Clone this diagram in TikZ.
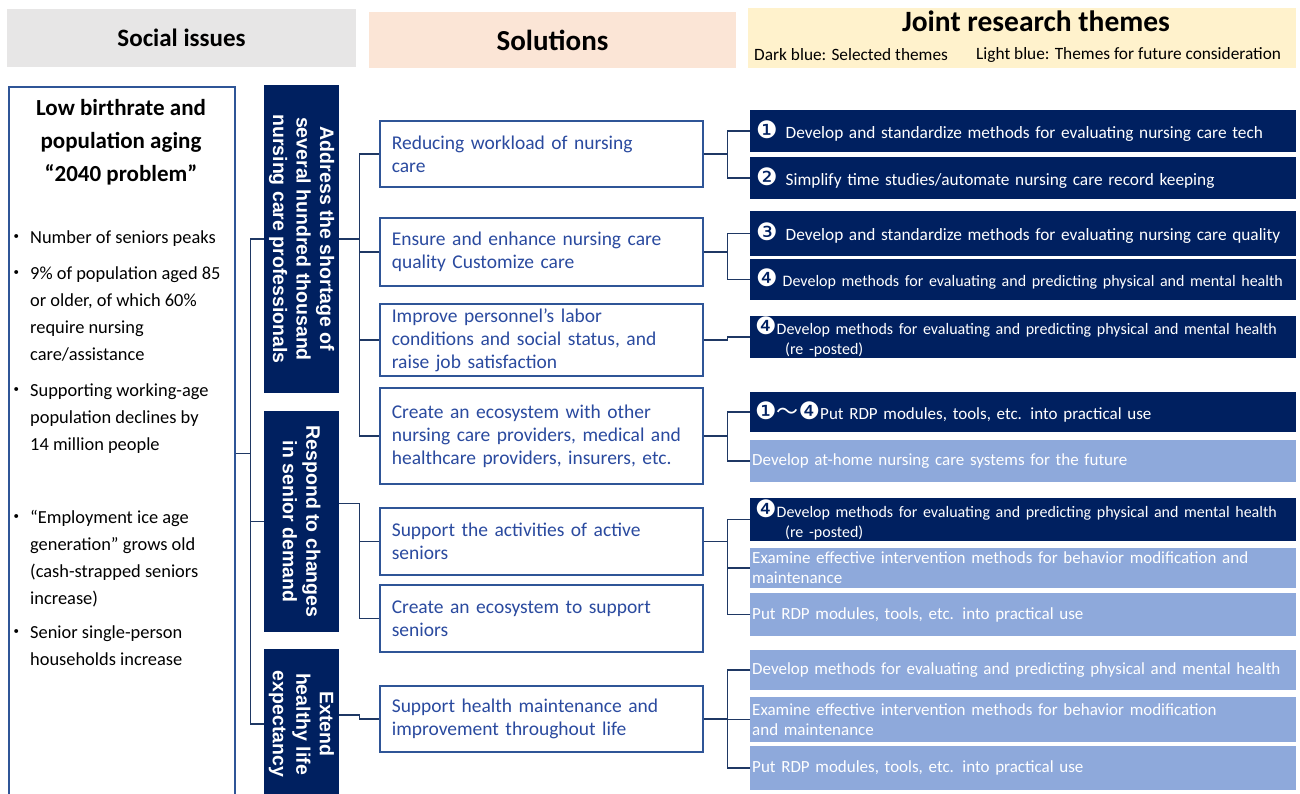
\documentclass[tikz,border=0pt]{standalone}
\usepackage{fontspec}
\setmainfont{Carlito}
\newfontfamily\arialfont{Liberation Sans}
\newfontfamily\symfont{DejaVu Sans}
\newfontfamily\cjk{Noto Sans CJK JP}
\usetikzlibrary{positioning,calc}
\tikzset{>=latex}

\definecolor{navy}{HTML}{002060}
\definecolor{lightblu}{HTML}{8EA9DB}
\definecolor{frame}{HTML}{2F5597}
\definecolor{soltext}{HTML}{2A4A9F}
\definecolor{linkcol}{HTML}{1F3864}
\definecolor{hdrgray}{HTML}{E7E6E6}
\definecolor{hdrpeach}{HTML}{FBE5D6}
\definecolor{hdryellow}{HTML}{FFF2CC}

\newcommand{\cn}[1]{{\symfont\fontsize{24}{20}\selectfont #1}}
\newcommand{\bitem}[1]{\makebox[16pt][l]{\hspace*{-7pt}\cjk ・}\parbox[t]{200pt}{\raggedright #1}}

\tikzset{
  hdr/.style={inner sep=0pt, font=\bfseries\fontsize{25}{28}\selectfont},
  sol/.style={draw=frame, line width=1.6pt, fill=white, anchor=west,
    minimum width=323pt, text width=299pt, align=left, inner xsep=12pt,
    inner ysep=0pt, text=soltext, font=\fontsize{19.5}{23}\selectfont},
  bar/.style={fill=navy, rotate=-90, text=white, align=center, inner sep=0pt,
    minimum height=75pt, font=\arialfont\bfseries\fontsize{19.5}{23.5}\selectfont},
  theme/.style={anchor=west, minimum width=546pt, text width=542pt, align=left,
    inner xsep=2pt, inner ysep=0pt, text=white, font=\fontsize{17}{20}\selectfont},
  bul/.style={anchor=north west, inner sep=0pt, font=\fontsize{18.4}{27}\selectfont},
  link/.style={draw=linkcol, line width=1.1pt}
}

\begin{document}
\begin{tikzpicture}[x=1pt,y=-1pt]
  \useasboundingbox (0,0) rectangle (1300,794);
  \clip (0,0) rectangle (1300,794);

  % headers
  \node[hdr, fill=hdrgray, minimum width=349pt, minimum height=58pt] (hsoc) at (181.5,38) {Social issues};
  \node[hdr, fill=hdrpeach, minimum width=367pt, minimum height=56pt,
    font=\bfseries\fontsize{29}{30}\selectfont] (hsol) at (552.5,40) {Solutions};
  \node[hdr, fill=hdryellow, minimum width=548pt, minimum height=60pt] (hjrt) at (1022,38) {};
  \node[hdr, font=\bfseries\fontsize{29.5}{30}\selectfont] (hjrtt) at (1036,21) {Joint research themes};
  \node[hdr, anchor=west, font=\fontsize{17.3}{18}\selectfont] (hdark) at (754,55) {Dark blue: Selected themes};
  \node[hdr, anchor=west, font=\fontsize{17.3}{18}\selectfont] (hlight) at (976,55) {Light blue: Themes for future consideration};

  % social issues
  \node[draw=frame, line width=1.6pt, anchor=north west, minimum width=226pt,
    minimum height=734pt] (issue) at (8,86) {};
  \node[align=center, inner sep=0pt, font=\bfseries\fontsize{23}{33}\selectfont] (ttl)
    at (121,142) {Low birthrate and\\population aging\\“2040 problem”};
  \node[bul] (i1) at (14,231) {\bitem{Number of seniors peaks}};
  \node[bul] (i2) at (14,267) {\bitem{9\% of population aged 85\\or older, of which 60\%\\require nursing\\care/assistance}};
  \node[bul] (i3) at (14,384) {\bitem{Supporting working-age\\population declines by\\14 million people}};
  \node[bul] (i4) at (14,510) {\bitem{“Employment ice age\\generation” grows old\\(cash-strapped seniors\\increase)}};
  \node[bul] (i5) at (14,626) {\bitem{Senior single-person\\households increase}};

  % goals
  \node[bar, minimum width=308pt] (b1) at (301.5,239)
    {Address the shortage of\\several hundred thousand\\nursing care professionals};
  \node[bar, minimum width=221pt] (b2) at (301.5,521.5)
    {Respond to changes\\in senior demand};
  \node[bar, minimum width=150pt] (b3) at (301.5,724)
    {Extend\\healthy life\\expectancy};

  % solutions
  \node[sol, minimum height=66pt] (s1) at (379,154) {Reducing workload of nursing\\care};
  \node[sol, minimum height=68pt] (s2) at (379,252) {Ensure and enhance nursing care\\quality Customize care};
  \node[sol, minimum height=72pt] (s3) at (379,340) {Improve personnel’s labor\\conditions and social status, and\\raise job satisfaction};
  \node[sol, minimum height=96pt] (s4) at (379,436) {Create an ecosystem with other\\nursing care providers, medical and\\healthcare providers, insurers, etc.};
  \node[sol, minimum height=67pt] (s5) at (379,541.5) {Support the activities of active\\seniors};
  \node[sol, minimum height=67pt] (s6) at (379,618.5) {Create an ecosystem to support\\seniors};
  \node[sol, minimum height=66pt] (s7) at (379,719) {Support health maintenance and\\improvement throughout life};

  % joint research themes
  \foreach \nm/\y/\h/\col/\txt in {
    t1/131/42/navy/{\hspace*{4pt}\cn{❶}\hspace{8pt}{\fontsize{17.3}{20}\selectfont Develop and standardize methods for evaluating nursing care tech}},
    t2/178/42/navy/{\hspace*{4pt}\cn{❷}\hspace{8pt}{\fontsize{17.3}{20}\selectfont Simplify time studies/automate nursing care record keeping}},
    t3/233.5/45/navy/{\hspace*{4pt}\cn{❸}\hspace{8pt}{\fontsize{17.3}{20}\selectfont Develop and standardize methods for evaluating nursing care quality}},
    t4/279.5/41/navy/{\hspace*{4pt}\cn{❹}\hspace{5pt}{\fontsize{16}{20}\selectfont Develop methods for evaluating and predicting physical and mental health}},
    t5/337/42/navy/{\hspace*{3pt}\cn{❹}{\fontsize{16}{25}\selectfont Develop methods for evaluating and predicting physical and mental health\\\hspace*{33pt}(re -posted)}},
    t6/412/40/navy/{\hspace*{3pt}\cn{❶}{\cjk\fontsize{22}{20}\selectfont ～}\cn{❹}Put RDP modules, tools, etc. into practical use},
    t7/461/42/lightblu/{Develop at-home nursing care systems for the future},
    t8/519.5/43/navy/{\hspace*{3pt}\cn{❹}{\fontsize{16}{25}\selectfont Develop methods for evaluating and predicting physical and mental health\\\hspace*{33pt}(re -posted)}},
    t9/568/40/lightblu/{Examine effective intervention methods for behavior modification and\\maintenance},
    t10/614.5/43/lightblu/{Put RDP modules, tools, etc. into practical use},
    t11/670/40/lightblu/{Develop methods for evaluating and predicting physical and mental health},
    t12/719.5/45/lightblu/{Examine effective intervention methods for behavior modification\\and maintenance},
    t13/768/44/lightblu/{Put RDP modules, tools, etc. into practical use}}
    \node[theme, fill=\col, minimum height=\h pt] (\nm) at (750,\y) {\txt};

  % issue -> goals
  \draw[link] (issue.east) -- ++(15,0) coordinate (hub);
  \draw[link] (b1.south) -| (hub) |- (b3.south);
  \draw[link] (hub |- b2.south) -- (b2.south);

  % goals -> solutions
  \draw[link] (b1.north) -- ++(20,0) coordinate (h1);
  \draw[link] (s1.west) -| (h1) |- (s4.west);
  \draw[link] (h1 |- s2.west) -- (s2.west);
  \draw[link] (h1 |- s3.west) -- (s3.west);
  \draw[link] ([yshift=18pt]b2.north) -- ++(20,0) coordinate (h2) |- (s6.west);
  \draw[link] (h2 |- s5.west) -- (s5.west);
  \draw[link] ([yshift=9pt]b3.north) -- ++(20,0) |- (s7.west);

  % solutions -> themes
  \draw[link] (s1.east) -- ++(24,0) coordinate (g1);
  \draw[link] (t1.west) -| (g1) |- (t2.west);
  \draw[link] (s2.east) -- ++(24,0) coordinate (g2);
  \draw[link] (t3.west) -| (g2) |- (t4.west);
  \draw[link] (s3.east) -- ++(24,0) |- (t5.west);
  \draw[link] (s4.east) -- ++(24,0) coordinate (g4);
  \draw[link] (t6.west) -| (g4) |- (t7.west);
  \draw[link] (s5.east) -- ++(24,0) coordinate (g5);
  \draw[link] (t8.west) -| (g5) |- (t10.west);
  \draw[link] (g5 |- t9.west) -- (t9.west);
  \draw[link] (s7.east) -- ++(24,0) coordinate (g7);
  \draw[link] (t11.west) -| (g7) |- (t13.west);
  \draw[link] (g7 |- t12.west) -- (t12.west);
\end{tikzpicture}
\end{document}
